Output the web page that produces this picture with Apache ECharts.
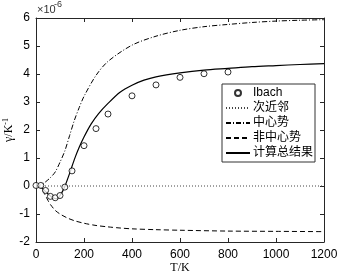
<!DOCTYPE html>
<html><head><meta charset="utf-8">
<script src="https://cdn.jsdelivr.net/npm/echarts@6/dist/echarts.min.js"></script>
<style>html,body{margin:0;padding:0;background:#fff}#c{width:340px;height:277px}</style>
</head><body><div id="c"></div>
<script>
// Ibach measured points
var ibachT = [0,20,40,60,80,100,120,150,200,250,300,400,500,600,700,800];
var ibachY = [0.02,0.02,-0.16,-0.37,-0.42,-0.34,-0.04,0.54,1.44,2.05,2.57,3.22,3.61,3.88,4.01,4.07];
// 次近邻 (nearest neighbour)
var nnT = [0,1200];
var nnY = [0,0];
// 中心势 (central)
var cenT = [0,20,40,60,80,100,120,140,160,180,200,250,300,400,500,600,700,800,900,1000,1100,1200];
var cenY = [0,0.04,0.15,0.3,0.5,0.85,1.25,1.8,2.35,2.8,3.2,3.95,4.45,5.03,5.35,5.56,5.69,5.77,5.84,5.89,5.92,5.94];
// 非中心势 (non-central)
var ncT = [0,20,30,40,50,60,80,100,130,160,200,250,300,350,400,500,600,800,1000,1200];
var ncY = [0,-0.08,-0.2,-0.35,-0.52,-0.66,-0.87,-1.0,-1.14,-1.24,-1.33,-1.41,-1.46,-1.5,-1.53,-1.56,-1.58,-1.61,-1.62,-1.63];
// 计算总结果 (total)
var totT = [0,20,40,60,80,90,100,110,120,140,160,180,200,230,260,300,350,400,450,500,600,700,800,900,1000,1100,1200];
var totY = [0,-0.05,-0.2,-0.36,-0.45,-0.44,-0.34,-0.2,-0.02,0.45,0.95,1.38,1.75,2.22,2.58,2.95,3.35,3.6,3.78,3.9,4.04,4.14,4.2,4.26,4.3,4.34,4.37];
var xTicks = [0,200,400,600,800,1000,1200];
var yTicks = [-2,-1,0,1,2,3,4,5,6];

function zip(a,b){return a.map(function(v,i){return [v,b[i]];});}
var chart = echarts.init(document.getElementById('c'));
var lab = {color:'#000',fontSize:12,fontFamily:'Liberation Sans, Arial',formatter:function(v){return String(v);}};
var axLine = {show:true,onZero:false,lineStyle:{color:'#262626',width:1}};
var tick = {show:true,inside:true,length:4,lineStyle:{color:'#262626'}};
var noSym = {opacity:0};
chart.setOption({
  animation:false,
  backgroundColor:'#fff',
  grid:{left:36,right:16,top:18,bottom:35,show:false,containLabel:false,outerBoundsMode:'none'},
  graphic:[
    {type:'text',left:37,top:4,style:{text:'×10',fontSize:11,fill:'#333',fontFamily:'Liberation Sans, Arial'}},
    {type:'text',left:54,top:0,style:{text:'-6',fontSize:9,fill:'#333',fontFamily:'Liberation Sans, Arial'}}
  ],
  legend:{
    orient:'vertical',left:222,top:84,
    itemWidth:24,itemHeight:6,itemGap:3,
    padding:[3,2,3,3],
    borderColor:'#333',borderWidth:1,backgroundColor:'#fff',
    textStyle:{fontSize:12,lineHeight:12,color:'#000',fontFamily:'Liberation Sans, Noto Sans CJK SC',padding:[0,0,0,-2]},
    data:[
      {name:'Ibach'},
      {name:'次近邻',itemStyle:noSym},
      {name:'中心势',itemStyle:noSym},
      {name:'非中心势',itemStyle:noSym},
      {name:'计算总结果',itemStyle:noSym}
    ]
  },
  xAxis:[
    {type:'value',min:0,max:1200,interval:200,position:'bottom',
     name:'T/K',nameLocation:'middle',nameGap:20,nameMoveOverlap:false,
     nameTextStyle:{fontSize:12,color:'#000',fontFamily:'Liberation Serif, Times New Roman'},
     axisLine:axLine,axisTick:tick,splitLine:{show:false},
     axisLabel:Object.assign({margin:7},lab)},
    {type:'value',min:0,max:1200,interval:200,position:'top',
     axisLine:axLine,axisTick:tick,splitLine:{show:false},axisLabel:{show:false}}
  ],
  yAxis:[
    {type:'value',min:-2,max:6,interval:1,position:'left',
     name:'γ/K{s|-1}',nameLocation:'middle',nameGap:20,nameRotate:90,nameMoveOverlap:false,
     nameTextStyle:{fontSize:12,color:'#000',fontFamily:'Liberation Serif, Times New Roman',
       rich:{s:{fontSize:8,verticalAlign:'top',padding:[0,0,6,0],fontFamily:'Liberation Serif'}}},
     axisLine:axLine,axisTick:tick,splitLine:{show:false},
     axisLabel:Object.assign({margin:6},lab)},
    {type:'value',min:-2,max:6,interval:1,position:'right',
     axisLine:axLine,axisTick:tick,splitLine:{show:false},axisLabel:{show:false}}
  ],
  series:[
    {name:'Ibach',type:'scatter',data:zip(ibachT,ibachY),symbol:'circle',symbolSize:6,
     itemStyle:{color:'#fff',borderColor:'#000',borderWidth:1},z:5},
    {name:'次近邻',type:'line',data:zip(nnT,nnY),symbol:'none',
     lineStyle:{color:'#444',width:1,type:[1,2]},itemStyle:{color:'#444'}},
    {name:'中心势',type:'line',data:zip(cenT,cenY),symbol:'none',smooth:0.3,
     lineStyle:{color:'#000',width:1,type:[5,2,1,2]},itemStyle:{color:'#000'}},
    {name:'非中心势',type:'line',data:zip(ncT,ncY),symbol:'none',smooth:0.3,
     lineStyle:{color:'#000',width:1,type:[5,3]},itemStyle:{color:'#000'}},
    {name:'计算总结果',type:'line',data:zip(totT,totY),symbol:'none',smooth:0.3,
     lineStyle:{color:'#000',width:1.2},itemStyle:{color:'#000'}}
  ]
});
</script></body></html>
